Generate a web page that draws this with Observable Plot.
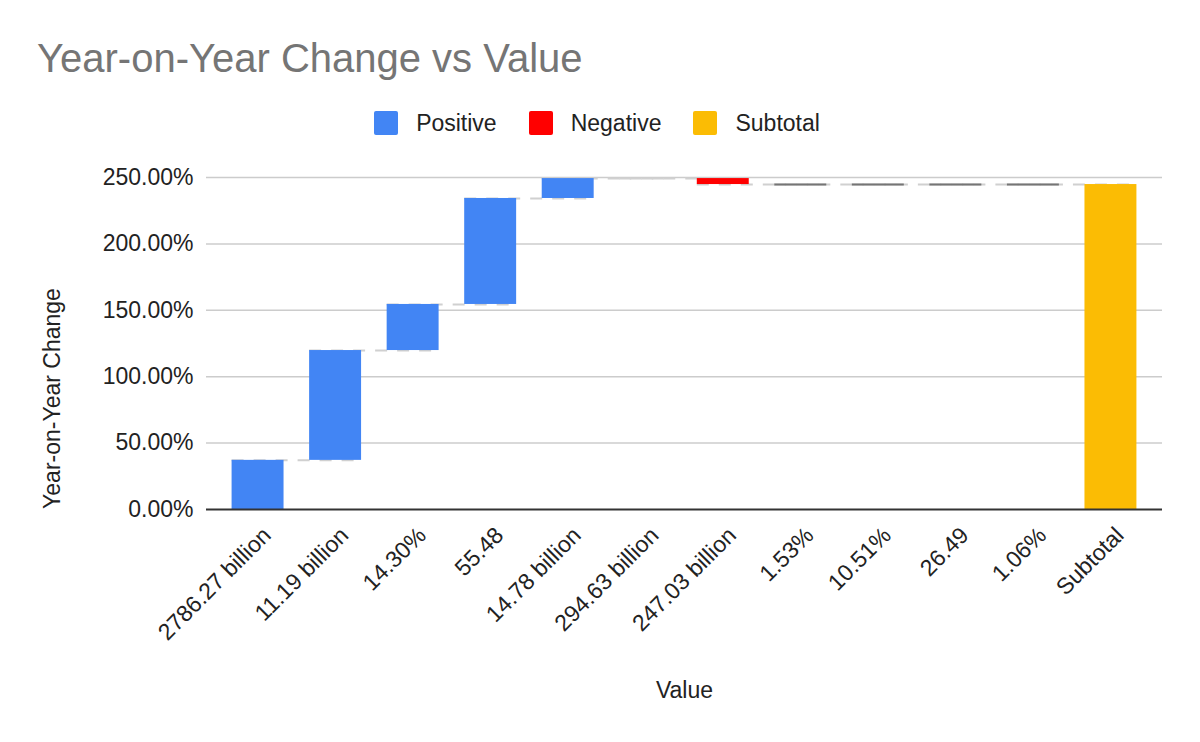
<!DOCTYPE html>
<html><head><meta charset="utf-8">
<script src="https://cdn.jsdelivr.net/npm/d3@7"></script>
<script src="https://cdn.jsdelivr.net/npm/@observablehq/plot@0.6"></script>
<style>
body{margin:0;background:#fff;font-family:"Liberation Sans",Arial,sans-serif;}
#wrap{position:relative;width:1200px;height:742px;overflow:hidden;}
#title{position:absolute;left:37px;top:35px;font-size:40px;color:#757575;white-space:nowrap;line-height:1.15;}
#legend{position:absolute;top:111px;left:-3px;width:1200px;height:24px;display:flex;justify-content:center;align-items:center;font-size:23px;color:#222;}
.item{display:flex;align-items:center;margin:0 16px;}
.sw{width:24px;height:24px;border-radius:2px;margin-right:18px;}
#chart{position:absolute;top:150px;left:0;}
</style></head>
<body>
<div id="wrap">
  <div id="title">Year-on-Year Change vs Value</div>
  <div id="legend"></div>
  <div id="chart"></div>
</div>
<script>
// ---- data ----
const categories = ["2786.27 billion","11.19 billion","14.30%","55.48","14.78 billion","294.63 billion","247.03 billion","1.53%","10.51%","26.49","1.06%","Subtotal"];
const changes = [37.0, 82.7, 34.7, 79.8, 15.0, null, -4.5, 0, 0, 0, 0, null];
const yTicks = [0, 50, 100, 150, 200, 250];
const legendKinds = ["Positive", "Negative", "Subtotal"];
const legendColors = ["#4285f4", "#ff0000", "#fbbc04"];

// ---- build waterfall rows ----
let level = 0;
const rows = categories.map((c, i) => {
  if (c === "Subtotal") return {cat: c, y1: 0, y2: level, kind: "Subtotal"};
  const d = changes[i];
  const start = level;
  if (d != null) level += d;
  return {cat: c, y1: start, y2: level, kind: d == null ? "None" : d > 0 ? "Positive" : d < 0 ? "Negative" : "Zero"};
});
const connectors = rows.slice(0, -1).map((r, i) => ({x1: r.cat, x2: rows[i + 1].cat, y: r.y2}));

// legend
const lg = document.getElementById("legend");
legendKinds.forEach((k, i) => {
  const it = document.createElement("div"); it.className = "item";
  const sw = document.createElement("div"); sw.className = "sw"; sw.style.background = legendColors[i];
  const t = document.createElement("span"); t.textContent = k;
  it.appendChild(sw); it.appendChild(t); lg.appendChild(it);
});

const chart = Plot.plot({
  width: 1200, height: 592,
  marginTop: 27, marginBottom: 233, marginLeft: 206, marginRight: 38,
  style: {fontFamily: "'Liberation Sans', Arial, sans-serif", fontSize: "23px", color: "#222", background: "#fff"},
  x: {domain: categories, padding: 0.33, round: false},
  y: {domain: [0, 250]},
  color: {domain: legendKinds, range: legendColors},
  marks: [
    Plot.ruleY(yTicks.filter(t => t > 0), {stroke: "#cccccc", strokeWidth: 1.5}),
    Plot.ruleY(connectors, {x1: "x1", x2: "x2", y: "y", stroke: "#d0d0d0", strokeWidth: 2, strokeDasharray: "12,10"}),
    Plot.barY(rows.filter(r => legendKinds.includes(r.kind)), {x: "cat", y1: "y1", y2: "y2", fill: "kind"}),
    Plot.ruleY(rows.filter(r => r.kind === "Zero"), {x1: "cat", x2: "cat", y: "y2", stroke: "#757575", strokeWidth: 2}),
    Plot.ruleY([0], {stroke: "#333333", strokeWidth: 2}),
    Plot.axisY({ticks: yTicks, tickFormat: d => d.toFixed(2) + "%", tickSize: 0, tickPadding: 13, fontSize: 23, label: null}),
    Plot.axisX({tickRotate: -45, tickSize: 0, tickPadding: 22, fontSize: 23, label: null, dx: 9}),
    Plot.text(["Value"], {text: d => d, frameAnchor: "bottom", lineAnchor: "middle", dy: 181, fontSize: 23, fill: "#222"}),
    Plot.text(["Year-on-Year Change"], {text: d => d, frameAnchor: "left", textAnchor: "middle", lineAnchor: "middle", rotate: -90, dx: -154, dy: 55, fontSize: 23, fill: "#222"})
  ]
});
document.getElementById("chart").appendChild(chart);
</script>
</body></html>
